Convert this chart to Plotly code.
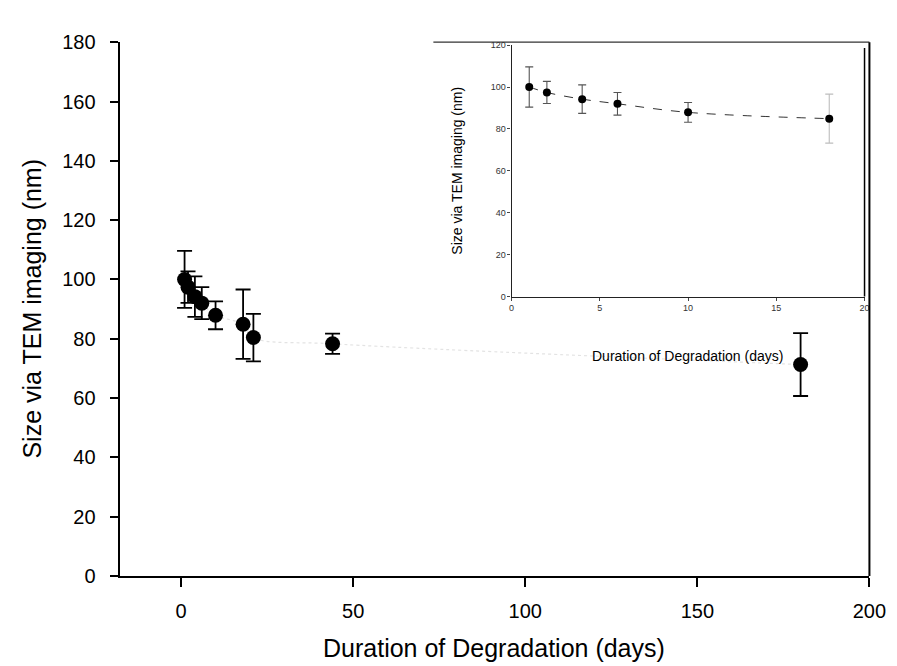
import plotly.graph_objects as go

# ---- data ----
days = [1, 2, 4, 6, 10, 18, 21, 44, 180]
size_nm = [100.0, 97.4, 94.2, 92.0, 87.9, 84.9, 80.4, 78.3, 71.3]
size_err = [9.6, 5.3, 6.8, 5.4, 4.7, 11.7, 8.0, 3.4, 10.6]

inset_days = days[:6]
inset_size = size_nm[:6]
inset_err = size_err[:6]

main_yticks = [0, 20, 40, 60, 80, 100, 120, 140, 160, 180]
main_xticks = [0, 50, 100, 150, 200]
inset_yticks = [0, 20, 40, 60, 80, 100, 120]
inset_xticks = [0, 5, 10, 15, 20]

W, H = 897, 666
FONT = "Liberation Sans, Arial, sans-serif"

def px(x):
    return x / W

def py(y):
    return 1 - y / H

fig = go.Figure()

# main: faint trend line
fig.add_trace(go.Scatter(
    x=days, y=size_nm, mode="lines",
    line=dict(color="#e3e3e3", width=1.2, dash="dot", shape="spline"),
    xaxis="x", yaxis="y", showlegend=False, hoverinfo="skip"))

# main points with error bars
fig.add_trace(go.Scatter(
    x=days, y=size_nm, mode="markers",
    marker=dict(color="black", size=15),
    error_y=dict(type="data", array=size_err, visible=True,
                 color="black", thickness=1.8, width=7.5),
    xaxis="x", yaxis="y", showlegend=False))

# inset: dashed fit line
fig.add_trace(go.Scatter(
    x=inset_days, y=inset_size, mode="lines",
    line=dict(color="#333333", width=1, dash="dash", shape="spline"),
    xaxis="x2", yaxis="y2", showlegend=False, hoverinfo="skip"))

# inset error bars (first five darker, last lighter)
fig.add_trace(go.Scatter(
    x=inset_days[:5], y=inset_size[:5], mode="markers",
    marker=dict(color="black", size=8),
    error_y=dict(type="data", array=inset_err[:5], visible=True,
                 color="#555555", thickness=1.1, width=4),
    xaxis="x2", yaxis="y2", showlegend=False))
fig.add_trace(go.Scatter(
    x=inset_days[5:], y=inset_size[5:], mode="markers",
    marker=dict(color="black", size=8),
    error_y=dict(type="data", array=inset_err[5:], visible=True,
                 color="#bdbdbd", thickness=1.1, width=4),
    xaxis="x2", yaxis="y2", showlegend=False))

# axes geometry (pixels)
mx0, mx1, my0, my1 = 111, 878, 24, 576
ix0, ix1, iy0, iy1 = 512, 873, 27, 287

def ann(text, x, y, size, angle=0):
    return dict(text=text, x=px(x), y=py(y), xref="paper", yref="paper",
                xanchor="center", yanchor="middle", showarrow=False,
                textangle=angle, font=dict(size=size, family=FONT, color="black"))

fig.update_layout(
    width=W, height=H,
    margin=dict(l=0, r=0, t=0, b=0),
    paper_bgcolor="white", plot_bgcolor="white",
    font=dict(family=FONT, color="black"),
    xaxis=dict(domain=[px(mx0), px(mx1)], range=[-17.9, 200],
               tickvals=main_xticks, ticks="outside", ticklen=9, tickwidth=1.5,
               tickcolor="black", showline=True, linecolor="black", linewidth=2,
               showgrid=False, zeroline=False,
               tickfont=dict(size=20, family=FONT), ticklabelstandoff=7,
               anchor="y"),
    yaxis=dict(domain=[py(my1), py(my0)], range=[0, 180],
               tickvals=main_yticks, ticks="outside", ticklen=8, tickwidth=1.5,
               tickcolor="black", showline=True, linecolor="black", linewidth=2,
               showgrid=False, zeroline=False,
               tickfont=dict(size=20, family=FONT), ticklabelstandoff=10,
               anchor="x"),
    xaxis2=dict(domain=[px(ix0), px(ix1)], range=[0, 20],
                tickvals=inset_xticks, ticks="outside", ticklen=3, tickwidth=1,
                tickcolor="#444444", showline=True, linecolor="#222222", linewidth=1.2,
                showgrid=False, zeroline=False,
                tickfont=dict(size=9, family=FONT, color="#333333"),
                anchor="y2"),
    yaxis2=dict(domain=[py(iy1), py(iy0)], range=[0, 120],
                tickvals=inset_yticks, ticks="outside", ticklen=3, tickwidth=1,
                tickcolor="#444444", showline=True, linecolor="#222222", linewidth=1.2,
                showgrid=False, zeroline=False,
                tickfont=dict(size=9, family=FONT, color="#333333"),
                anchor="x2"),
    annotations=[
        ann("Duration of Degradation (days)", 494, 650, 25),
        ann("Size via TEM imaging (nm)", 22, 300, 25, -90),
        ann("Duration of Degradation (days)", 692, 349, 14),
        ann("Size via TEM imaging (nm)", 456, 157, 14, -90),
    ],
    shapes=[
        # frame of inset graphic (top) and main right border
        dict(type="line", xref="paper", yref="paper",
             x0=px(432), x1=px(878), y0=py(24), y1=py(24),
             line=dict(color="#333333", width=1.2)),
        dict(type="line", xref="paper", yref="paper",
             x0=px(878), x1=px(878), y0=py(24), y1=py(576),
             line=dict(color="black", width=2)),
        # inset right border
        dict(type="line", xref="paper", yref="paper",
             x0=px(873), x1=px(873), y0=py(30), y1=py(287),
             line=dict(color="black", width=1.5)),
    ],
)

fig.write_html("out.html")
